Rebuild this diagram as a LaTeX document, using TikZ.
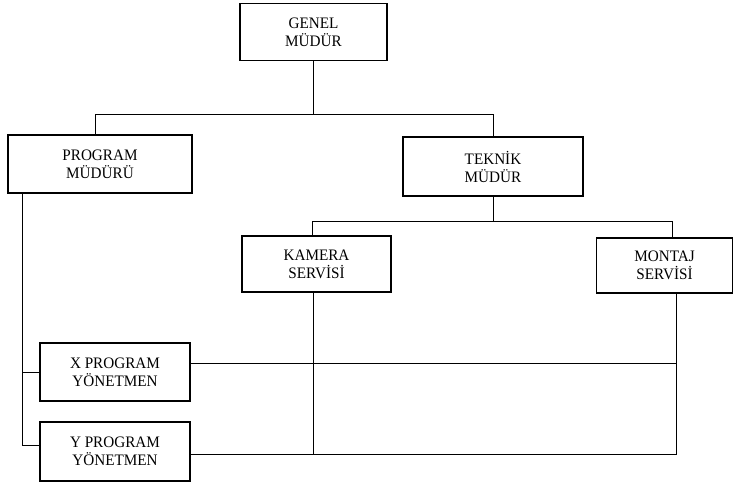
\documentclass[tikz,border=0pt]{standalone}
\usepackage{fontspec}
\setmainfont{Liberation Serif}[FakeStretch=0.95]
\begin{document}
\begin{tikzpicture}[x=1pt,y=-1pt,
  unit/.style={draw, line width=1.1pt, align=center, inner sep=0pt,
    font=\fontsize{16}{18}\selectfont},
  link/.style={line width=0.8pt}]
\useasboundingbox (0,0) rectangle (734,486);

% units
\node[unit, minimum width=147pt, minimum height=57pt] (gm) at (313.5,32) {GENEL\\MÜDÜR};
\node[unit, minimum width=184pt, minimum height=58pt] (pm) at (100,164) {PROGRAM\\MÜDÜRÜ};
\node[unit, minimum width=180pt, minimum height=59pt] (tm) at (493,166.5) {TEKNİK\\MÜDÜR};
\node[unit, minimum width=149pt, minimum height=56pt] (ks) at (316.5,264) {KAMERA\\SERVİSİ};
\node[unit, minimum width=136pt, minimum height=55pt] (ms) at (664.5,265.5) {MONTAJ\\SERVİSİ};
\node[unit, minimum width=150pt, minimum height=58pt] (xp) at (115,372) {X PROGRAM\\YÖNETMEN};
\node[unit, minimum width=150pt, minimum height=59pt] (yp) at (115,451.5) {Y PROGRAM\\YÖNETMEN};

% bus levels and attachment points
\coordinate (busA) at (0,114);
\coordinate (busB) at (0,221);
\coordinate (pmTop) at ([xshift=-5pt]pm.north);
\coordinate (pmLeft) at ([xshift=-78pt]pm.south);
\coordinate (ksTop) at ([xshift=-4.5pt]ks.north);
\coordinate (ksBot) at ([xshift=-3.5pt]ks.south);
\coordinate (msTop) at ([xshift=7.5pt]ms.north);
\coordinate (msBot) at ([xshift=11.5pt]ms.south);
\coordinate (xOut) at ([yshift=9pt]xp.east);
\coordinate (yOut) at ([yshift=-2.5pt]yp.east);
\coordinate (yIn) at ([yshift=6.5pt]yp.west);

% top level
\draw[link] (gm.south) -- (gm.south |- busA);
\draw[link] (pmTop) |- (busA -| tm.north) -- (tm.north);

% technical branch
\draw[link] (tm.south) -- (tm.south |- busB);
\draw[link] (ksTop) |- (busB -| msTop) -- (msTop);

% programme branch
\draw[link] (pmLeft) |- (yIn);
\draw[link] (pmLeft |- xp.west) -- (xp.west);

% cross links to services
\draw[link] (xOut) -- (xOut -| msBot);
\draw[link] (yOut) -| (msBot);
\draw[link] (ksBot) -- (ksBot |- yOut);
\end{tikzpicture}
\end{document}
